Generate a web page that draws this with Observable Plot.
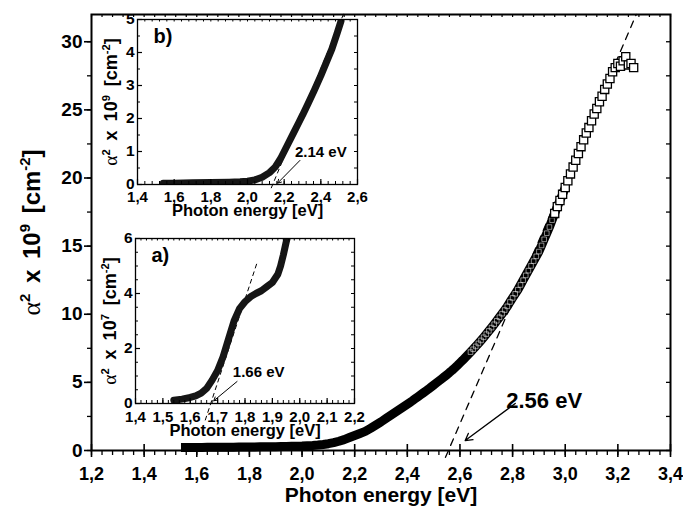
<!DOCTYPE html>
<html><head><meta charset="utf-8">
<script src="https://cdn.jsdelivr.net/npm/d3@7"></script>
<script src="https://cdn.jsdelivr.net/npm/@observablehq/plot@0.6"></script>
<style>
body{margin:0;background:#fff;}
#wrap{position:relative;width:683px;height:515px;overflow:hidden;background:#fff;}
#wrap > div{position:absolute;}
</style></head><body>
<div id="wrap"><div id="main" style="left:0;top:0"></div><div id="insetB" style="left:100px;top:12px"></div><div id="insetA" style="left:100px;top:230px"></div></div>
<script>
// ---------- main chart data: photon energy [eV] vs alpha^2 x 10^9 [cm^-2] ----------
const mainEnergy = [1.54,1.56,1.58,1.60,1.62,1.64,1.66,1.68,1.70,1.72,1.74,1.76,1.78,1.80,1.82,1.84,1.86,1.88,1.90,1.92,1.94,1.96,1.98,2.00,2.02,2.04,2.06,2.08,2.10,2.12,2.14,2.16,2.18,2.20,2.22,2.24,2.26,2.28,2.30,2.32,2.34,2.36,2.38,2.40,
2.41,2.42,2.43,2.44,2.45,2.46,2.47,2.48,2.49,2.50,2.51,2.52,2.53,2.54,2.55,2.56,2.57,2.58,2.59,2.60,2.61,2.62,2.63,2.64,2.65,2.66,2.67,2.68,2.69,2.70,2.71,2.72,2.73,2.74,2.75,2.76,2.77,2.78,2.79,2.80,2.81,2.82,2.83,2.84,2.85,2.86,2.87,2.88,2.89,2.90,2.91,2.92,2.93,2.94,2.95,2.96,2.97,2.98,2.99,3.00,3.01,3.02,3.03,3.04,3.05,3.06,3.07,3.08,3.09,3.10,3.11,3.12,3.13,3.14,3.15,3.16,3.17,3.18,3.19,3.20,3.21,3.22,3.23,3.24,3.25,3.26];
const mainAlpha2 = [0.22,0.22,0.22,0.22,0.22,0.23,0.23,0.23,0.24,0.24,0.24,0.25,0.25,0.26,0.26,0.27,0.27,0.28,0.28,0.29,0.30,0.31,0.32,0.33,0.35,0.37,0.40,0.44,0.50,0.58,0.68,0.80,0.95,1.10,1.25,1.40,1.62,1.86,2.10,2.36,2.62,2.88,3.14,3.40,
3.53,3.66,3.80,3.94,4.08,4.22,4.36,4.50,4.65,4.80,4.95,5.10,5.25,5.40,5.55,5.72,5.88,6.06,6.24,6.43,6.62,6.82,7.02,7.22,7.43,7.64,7.86,8.08,8.31,8.54,8.78,9.02,9.27,9.52,9.78,10.04,10.31,10.58,10.9,11.2,11.5,11.8,12.15,12.5,12.85,13.2,13.55,13.9,14.25,14.6,15.05,15.5,15.95,16.4,16.9,17.4,17.9,18.35,18.8,19.3,19.8,20.3,20.8,21.3,21.8,22.3,22.8,23.3,23.7,24.2,24.7,25.1,25.6,26.0,26.5,26.9,27.3,27.8,28.1,28.4,28.2,28.6,28.9,28.3,28.4,28.1];
const mainFitEnergy = [2.545, 3.27];
const mainFitAlpha2 = [-0.5, 32];
const mainArrow = [{x1: 2.81, y1: 3.45, x2: 2.62, y2: 0.73}];
const mainNote = [{x: 2.92, y: 3.64, label: "2.56 eV"}];
const mainXTicks = [1.2,1.4,1.6,1.8,2.0,2.2,2.4,2.6,2.8,3.0,3.2,3.4];
const mainYTicks = [0,5,10,15,20,25,30];
const xTitle = "Photon energy [eV]";
const yTitleMain = "α² x 10⁹ [cm⁻²]";

// ---------- inset b: alpha^2 x 10^9 ----------
const bEnergy = [1.54,1.60,1.70,1.80,1.90,1.96,2.00,2.04,2.08,2.12,2.15,2.18,2.20,2.22,2.25,2.28,2.30,2.33,2.36,2.40,2.43,2.46,2.49,2.51];
const bAlpha2 = [0.04,0.04,0.05,0.06,0.07,0.08,0.10,0.14,0.22,0.36,0.52,0.78,1.00,1.22,1.55,1.88,2.10,2.45,2.80,3.30,3.70,4.10,4.60,4.95];
const bFitEnergy = [2.13, 2.53];
const bFitAlpha2 = [-0.1, 5.25];
const bArrow = [{x1: 2.286, y1: 0.73, x2: 2.164, y2: 0.04}];
const bNote = [{x: 2.40, y: 0.98, label: "2.14 eV"}];
const bXTicks = [1.4,1.6,1.8,2.0,2.2,2.4,2.6];
const bYTicks = [0,1,2,3,4,5];
const yTitleB = "α² x 10⁹ [cm⁻²]";

// ---------- inset a: alpha^2 x 10^7 ----------
const aEnergy = [1.54,1.57,1.60,1.62,1.64,1.66,1.68,1.70,1.72,1.74,1.76,1.78,1.80,1.82,1.84,1.86,1.88,1.90,1.92,1.93,1.94,1.95,1.955];
const aAlpha2 = [0.12,0.16,0.22,0.28,0.38,0.55,0.85,1.20,1.70,2.35,3.00,3.45,3.70,3.88,4.00,4.10,4.25,4.40,4.70,5.00,5.40,5.85,6.05];
const aFitEnergy = [1.655, 1.845];
const aFitAlpha2 = [-0.6, 5.15];
const aArrow = [{x1: 1.771, y1: 0.8, x2: 1.686, y2: 0.1}];
const aNote = [{x: 1.85, y: 1.15, label: "1.66 eV"}];
const aXTicks = [1.4,1.5,1.6,1.7,1.8,1.9,2.0,2.1,2.2];
const aYTicks = [0,2,4,6];
const yTitleA = "α² x 10⁷ [cm⁻²]";

// ---------- helpers ----------
const FONT = "'Liberation Sans', Arial, Helvetica, sans-serif";
const fmt = d => d3.format(".1f")(d).replace(".", ",");
const fmtInt = d3.format("d");
const pts = (xs, ys) => xs.map((x, i) => ({x, y: ys[i]}));

function tBottom(vals, fh, inL, outL, sw){ return Plot.tickX(vals, {x: d => d, insetTop: fh - inL, insetBottom: -outL, stroke: "black", strokeWidth: sw}); }
function tTop(vals, fh, inL, sw){ return Plot.tickX(vals, {x: d => d, insetTop: 0, insetBottom: fh - inL, stroke: "black", strokeWidth: sw}); }
function tLeft(vals, fw, inL, outL, sw){ return Plot.tickY(vals, {y: d => d, insetRight: fw - inL, insetLeft: -outL, stroke: "black", strokeWidth: sw}); }
function tRight(vals, fw, inL, sw){ return Plot.tickY(vals, {y: d => d, insetLeft: fw - inL, insetRight: 0, stroke: "black", strokeWidth: sw}); }
function xLabels(vals, pad, fs){ return Plot.text(vals, {x: d => d, frameAnchor: "bottom", dy: pad, lineAnchor: "top", text: fmt, fontSize: fs, fontWeight: "bold", fill: "black"}); }
function yLabels(vals, pad, fs){ return Plot.text(vals, {y: d => d, frameAnchor: "left", dx: -pad, textAnchor: "end", text: fmtInt, fontSize: fs, fontWeight: "bold", fill: "black"}); }

function supTitle(svg, raw, fs, ws){
  const parts = [[raw.slice(0,1), "g"]];
  const supMap = {"²":"2","⁹":"9","⁷":"7","⁻":"-"};
  let buf = "", isSup = false;
  for (const ch of raw.slice(1)) {
    const s = ch in supMap;
    if (s !== isSup && buf) { parts.push([buf, isSup ? "s" : "n"]); buf = ""; }
    isSup = s; buf += s ? supMap[ch] : ch;
  }
  if (buf) parts.push([buf, isSup ? "s" : "n"]);
  d3.select(svg).selectAll("text").filter(function(){ return this.textContent === raw; }).each(function(){
    const t = d3.select(this); t.text(null).attr("word-spacing", ws);
    let up = false;
    for (const [s, k] of parts) {
      const ts = t.append("tspan").text(s);
      if (k === "g") ts.attr("font-family", "'Liberation Serif','DejaVu Serif',serif").attr("font-weight", "normal").attr("font-size", fs * 1.08);
      if (k === "s") { ts.attr("font-size", fs * 0.62).attr("dy", -fs * 0.42); up = true; }
      else if (up) { ts.attr("dy", fs * 0.42); up = false; }
    }
  });
}

// ---------- main plot ----------
const W = 683, H = 515, mL = 91, mR = 13, mT = 14, mB = 65;
const fW = W - mL - mR, fH = H - mT - mB;
const mainPts = pts(mainEnergy, mainAlpha2);
const mainMinorX = d3.range(1.2, 3.4001, 0.04);
const mainMinorY = d3.range(0, 32, 2.5);

const main = Plot.plot({
  width: W, height: H, marginLeft: mL, marginRight: mR, marginTop: mT, marginBottom: mB,
  x: {domain: [1.2, 3.4], axis: null}, y: {domain: [0, 32], axis: null},
  style: {fontFamily: FONT, fontSize: "18px", fontWeight: "bold", background: "white", overflow: "visible", color: "black"},
  marks: [
    Plot.line(pts(mainFitEnergy, mainFitAlpha2), {x: "x", y: "y", stroke: "black", strokeWidth: 1.3, strokeDasharray: "7,6"}),
    Plot.line(mainPts.filter(d => d.x <= 3.0), {x: "x", y: "y", stroke: "black", strokeWidth: 9, strokeLinecap: "butt", strokeLinejoin: "round"}),
    Plot.dot(mainPts.filter(d => d.x >= 2.64 && d.x <= 2.97), {x: "x", y: "y", symbol: "square", r: 2.6, fill: "none", stroke: "white", strokeWidth: 0.7, strokeOpacity: 0.75}),
    Plot.dot(mainPts.filter(d => d.x >= 2.96), {x: "x", y: "y", symbol: "square", r: 4.6, fill: "white", stroke: "black", strokeWidth: 1.3}),
    Plot.arrow(mainArrow, {x1: "x1", y1: "y1", x2: "x2", y2: "y2", stroke: "black", strokeWidth: 1.3, headLength: 9}),
    Plot.text(mainNote, {x: "x", y: "y", text: "label", fontSize: 22, fontWeight: "bold", fill: "black"}),
    Plot.frame({stroke: "black", strokeWidth: 2}),
    tBottom(mainMinorX, fH, 0, 5, 1.3),
    tBottom(mainXTicks, fH, 6, 7, 1.6),
    tTop(mainMinorX, fH, 3, 1.2),
    tLeft(mainMinorY, fW, 0, 4, 1.3),
    tLeft(mainYTicks, fW, 0, 7, 1.6),
    tRight(mainMinorY, fW, 4, 1.3),
    xLabels(mainXTicks, 17, 18),
    yLabels(mainYTicks, 9, 19),
    Plot.text([xTitle], {frameAnchor: "bottom", dy: 51, text: d => d, fontSize: 21, fontWeight: "bold", fill: "black"}),
    Plot.text([yTitleMain], {frameAnchor: "left", dx: -59, rotate: -90, textAnchor: "middle", text: d => d, fontSize: 24, fontWeight: "bold", fill: "black"})
  ]
});
supTitle(main, yTitleMain, 24, 4);
document.getElementById("main").appendChild(main);

// ---------- insets ----------
function makeInset(c){
  const fw = c.w - c.mL - c.mR, fh = c.h - c.mT - c.mB;
  const svg = Plot.plot({
    width: c.w, height: c.h, marginLeft: c.mL, marginRight: c.mR, marginTop: c.mT, marginBottom: c.mB,
    x: {domain: c.xDom, axis: null}, y: {domain: c.yDom, axis: null},
    style: {fontFamily: FONT, fontSize: "15px", fontWeight: "bold", background: "transparent", overflow: "visible", color: "black"},
    marks: [
      Plot.frame({fill: "white", stroke: "none"}),
      Plot.line(c.fit, {x: "x", y: "y", stroke: "black", strokeWidth: 1, strokeDasharray: "4,4"}),
      Plot.line(c.pts, {x: "x", y: "y", stroke: "#151515", strokeWidth: 7, strokeLinecap: "round", strokeLinejoin: "round", clip: true}),
      Plot.arrow(c.arrow, {x1: "x1", y1: "y1", x2: "x2", y2: "y2", stroke: "black", strokeWidth: 1, headLength: 6}),
      Plot.text(c.note, {x: "x", y: "y", text: "label", fontSize: 15, fontWeight: "bold", fill: "black"}),
      Plot.text([c.tag], {frameAnchor: "top-left", dx: 16, dy: 9, lineAnchor: "top", textAnchor: "start", text: d => d, fontSize: 20, fontWeight: "bold", fill: "black"}),
      Plot.frame({stroke: "black", strokeWidth: 1.3}),
      tBottom(c.xMinor, fh, 3, 0, 1),
      tBottom(c.xTicks, fh, 5, 0, 1.2),
      tTop(c.xMinor, fh, 2.5, 1),
      tLeft(c.yMinor, fw, 3, 0, 1),
      tLeft(c.yTicks, fw, 5, 0, 1.2),
      tRight(c.yMinor, fw, 3, 1),
      xLabels(c.xTicks, c.xPad, 15),
      yLabels(c.yTicks, 3, 15.5),
      Plot.text([xTitle], {frameAnchor: "bottom", dy: c.titleDy, text: d => d, fontSize: 16.5, fontWeight: "bold", fill: "black"}),
      Plot.text([c.yTitle], {frameAnchor: "left", dx: c.yTitleDx, rotate: -90, textAnchor: "middle", text: d => d, fontSize: 18, fontWeight: "bold", fill: "black"})
    ]
  });
  supTitle(svg, c.yTitle, 18, 4);
  return svg;
}

const insetB = makeInset({
  w: 270, h: 212, mL: 37, mR: 13, mT: 7, mB: 40,
  xDom: [1.4, 2.6], yDom: [0, 5.0],
  pts: pts(bEnergy, bAlpha2), fit: pts(bFitEnergy, bFitAlpha2), arrow: bArrow, note: bNote, tag: "b)",
  xTicks: bXTicks, xMinor: d3.range(1.4, 2.6001, 0.04), yTicks: bYTicks, yMinor: d3.range(0, 5.0001, 0.5),
  xPad: 7, titleDy: 31, yTitle: yTitleB, yTitleDx: -26
});
document.getElementById("insetB").appendChild(insetB);

const insetA = makeInset({
  w: 270, h: 212, mL: 35, mR: 16, mT: 8, mB: 39,
  xDom: [1.4, 2.2], yDom: [0, 6],
  pts: pts(aEnergy, aAlpha2), fit: pts(aFitEnergy, aFitAlpha2), arrow: aArrow, note: aNote, tag: "a)",
  xTicks: aXTicks, xMinor: d3.range(1.4, 2.2001, 0.02), yTicks: aYTicks, yMinor: d3.range(0, 6.0001, 0.5),
  xPad: 8, titleDy: 32, yTitle: yTitleA, yTitleDx: -25
});
document.getElementById("insetA").appendChild(insetA);
</script>
</body></html>
